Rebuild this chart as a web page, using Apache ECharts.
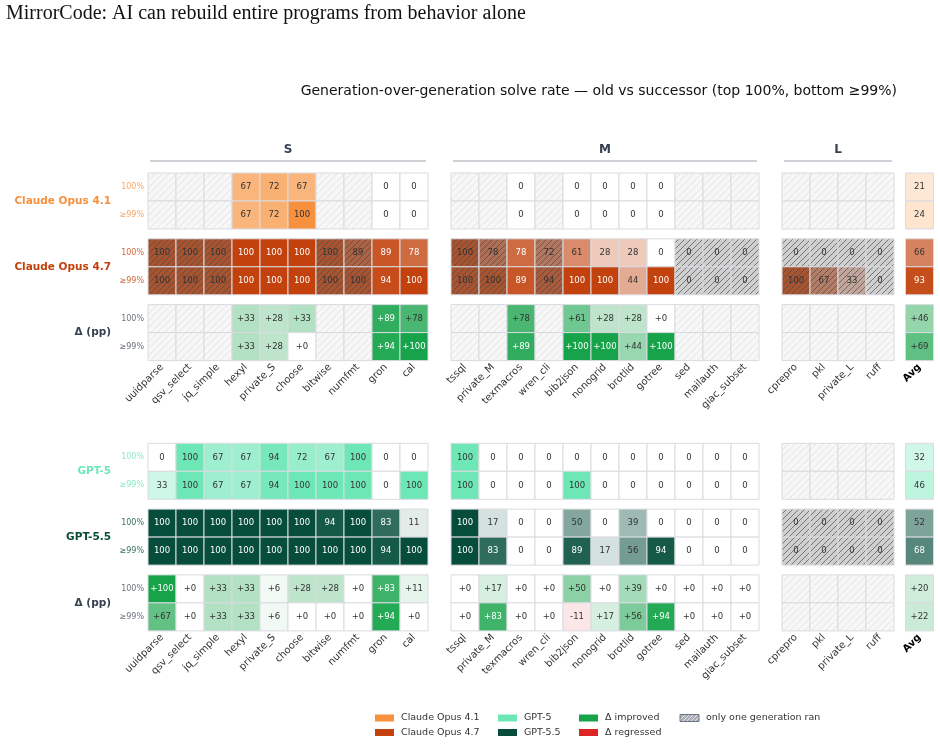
<!DOCTYPE html>
<html>
<head>
<meta charset="utf-8">
<script src="https://cdn.jsdelivr.net/npm/echarts@6/dist/echarts.min.js"></script>
<style>
html,body{margin:0;padding:0;background:#fff;}
#chart{width:940px;height:744px;}
</style>
</head>
<body>
<div id="chart"></div>
<script>
// columns by size group
const sCols = ['uuidparse','qsv_select','jq_simple','hexyl','private_S','choose','bitwise','numfmt','gron','cal'];
const mCols = ['tssql','private_M','texmacros','wren_cli','bib2json','nonogrid','brotlid','gotree','sed','mailauth','giac_subset'];
const lCols = ['cprepro','pkl','private_L','ruff'];
const avgCols = ['Avg'];
const rowLabels = ['100%', '≥99%'];

// each row: S(10) | M(11) | L(4) | Avg(1); null = not run
const opus41Top = [null,null,null,67,72,67,null,null,0,0,  null,null,0,null,0,0,0,0,null,null,null,  null,null,null,null, 21];
const opus41Bot = [null,null,null,67,72,100,null,null,0,0, null,null,0,null,0,0,0,0,null,null,null,  null,null,null,null, 24];
const opus47Top = [100,100,100,100,100,100,100,89,89,78,   100,78,78,72,61,28,28,0,0,0,0,           0,0,0,0, 66];
const opus47Bot = [100,100,100,100,100,100,100,100,94,100, 100,100,89,94,100,100,44,100,0,0,0,      100,67,33,0, 93];
const dOpusTop  = [null,null,null,33,28,33,null,null,89,78, null,null,78,null,61,28,28,0,null,null,null, null,null,null,null, 46];
const dOpusBot  = [null,null,null,33,28,0,null,null,94,100, null,null,89,null,100,100,44,100,null,null,null, null,null,null,null, 69];

const gpt5Top   = [0,100,67,67,94,72,67,100,0,0,           100,0,0,0,0,0,0,0,0,0,0,   null,null,null,null, 32];
const gpt5Bot   = [33,100,67,67,94,100,100,100,0,100,      100,0,0,0,100,0,0,0,0,0,0, null,null,null,null, 46];
const gpt55Top  = [100,100,100,100,100,100,94,100,83,11,   100,17,0,0,50,0,39,0,0,0,0,  0,0,0,0, 52];
const gpt55Bot  = [100,100,100,100,100,100,100,100,94,100, 100,83,0,0,89,17,56,94,0,0,0, 0,0,0,0, 68];
const dGptTop   = [100,0,33,33,6,28,28,0,83,11,            0,17,0,0,50,0,39,0,0,0,0,   null,null,null,null, 20];
const dGptBot   = [67,0,33,33,6,0,0,0,94,0,                0,83,0,0,-11,17,56,94,0,0,0, null,null,null,null, 22];

const C_OPUS41 = '#F7913D', C_OPUS47 = '#C2410C', C_GPT5 = '#6EE7B7', C_GPT55 = '#064E3B';
const C_UP = '#16A34A', C_DOWN = '#DC2626', C_DELTA = '#374151';

const groups = [
    {name:'S', cols:sCols, off:0,  x:148},
    {name:'M', cols:mCols, off:10, x:451},
    {name:'L', cols:lCols, off:21, x:782},
    {name:'',  cols:avgCols, off:25, x:905.5}
];
const CW = 28, CH = 28, STEP = 65.8;

const panels = [
    {top:173, blocks:[
        {label:'Claude Opus 4.1', color:C_OPUS41, kind:'model', rows:[opus41Top, opus41Bot]},
        {label:'Claude Opus 4.7', color:C_OPUS47, kind:'model', rows:[opus47Top, opus47Bot], prev:[opus41Top, opus41Bot]},
        {label:'Δ (pp)', color:C_DELTA, kind:'delta', rows:[dOpusTop, dOpusBot]}
    ]},
    {top:443.3, blocks:[
        {label:'GPT-5', color:C_GPT5, kind:'model', rows:[gpt5Top, gpt5Bot]},
        {label:'GPT-5.5', color:C_GPT55, kind:'model', rows:[gpt55Top, gpt55Bot], prev:[gpt5Top, gpt5Bot]},
        {label:'Δ (pp)', color:C_DELTA, kind:'delta', rows:[dGptTop, dGptBot]}
    ]}
];

function hexRgb(h){ h=h.replace('#',''); return [0,2,4].map(i=>parseInt(h.substr(i,2),16)); }
function mixRgb(hex, t, base){
    const a = hexRgb(hex), b = hexRgb(base || '#ffffff');
    return a.map((v,i)=>Math.round(b[i] + (v-b[i])*t));
}
function toHex(rgb){ return '#' + rgb.map(v=>('0'+v.toString(16)).slice(-2)).join(''); }
function mix(hex, t, base){ return toHex(mixRgb(hex, t, base)); }

const patCache = {};
function hatch(bg, line, size){
    const key = bg+line+size;
    if(patCache[key]) return patCache[key];
    const c = document.createElement('canvas');
    c.width = c.height = size;
    const ctx = c.getContext('2d');
    ctx.fillStyle = bg; ctx.fillRect(0,0,size,size);
    ctx.strokeStyle = line; ctx.lineWidth = 1;
    ctx.beginPath();
    ctx.moveTo(0,size); ctx.lineTo(size,0);
    ctx.moveTo(-1,1); ctx.lineTo(1,-1);
    ctx.moveTo(size-1,size+1); ctx.lineTo(size+1,size-1);
    ctx.stroke();
    patCache[key] = {image:c, repeat:'repeat'};
    return patCache[key];
}
const EMPTY = hatch('#f7f7f7', '#e4e4e4', 7);

function cellInfo(block, r, i){
    const v = block.rows[r][i];
    if(v === null) return {fill:EMPTY, text:''};
    let rgb;
    if(block.kind === 'delta'){
        rgb = v >= 0 ? mixRgb(C_UP, v/100) : mixRgb(C_DOWN, -v/100);
    } else {
        rgb = mixRgb(block.color, v/100);
    }
    const text = block.kind === 'delta' ? (v >= 0 ? '+' + v : '' + v) : '' + v;
    const hatched = block.prev && block.prev[r][i] === null;
    if(hatched){
        const bg = mixRgb('#777777', 0.35, toHex(rgb));
        return {fill:hatch(toHex(bg), 'rgba(70,70,70,0.65)', 6), text, textColor:'#333'};
    }
    const br = 0.299*rgb[0] + 0.587*rgb[1] + 0.114*rgb[2];
    return {fill:toHex(rgb), text, textColor: br < 140 ? '#ffffff' : '#333333'};
}

const grids = [], xAxes = [], yAxes = [], series = [];
panels.forEach((p, pi)=>{
    p.blocks.forEach((b, bi)=>{
        groups.forEach((g, gi)=>{
            const idx = grids.length;
            grids.push({left:g.x, top:p.top + bi*STEP, width:g.cols.length*CW, height:2*CH});
            xAxes.push({
                type:'category', gridIndex:idx,
                data:g.cols.map(c => c === 'Avg' ? {value:c, textStyle:{fontWeight:'bold', color:'#000'}} : c),
                axisLine:{show:false}, axisTick:{show:false}, splitLine:{show:false},
                axisLabel:{show:bi === 2, rotate:45, interval:0, fontSize:10, color:'#333', margin:5, fontFamily:'DejaVu Sans'}
            });
            yAxes.push({
                type:'category', gridIndex:idx, inverse:true, data:rowLabels,
                axisLine:{show:false}, axisTick:{show:false}, splitLine:{show:false},
                axisLabel:{show:gi === 0, fontSize:8, margin:4, fontFamily:'DejaVu Sans',
                    color: b.kind === 'delta' ? '#6b7280' : mix(b.color, 0.8)}
            });
            const data = [], cells = [];
            for(let r = 0; r < 2; r++){
                g.cols.forEach((c, ci)=>{
                    data.push([ci, r]);
                    cells.push(cellInfo(b, r, g.off + ci));
                });
            }
            series.push({
                type:'custom', xAxisIndex:idx, yAxisIndex:idx, silent:true,
                data:data,
                renderItem(params, api){
                    const info = cells[params.dataIndex];
                    const pt = api.coord([api.value(0), api.value(1)]);
                    const sz = api.size([1, 1]);
                    const children = [{
                        type:'rect',
                        shape:{x:pt[0]-sz[0]/2, y:pt[1]-sz[1]/2, width:sz[0], height:sz[1]},
                        style:{fill:info.fill, stroke:'#d9dbe1', lineWidth:1}
                    }];
                    if(info.text){
                        children.push({type:'text', style:{
                            text:info.text, x:pt[0], y:pt[1], align:'center', verticalAlign:'middle',
                            fill:info.textColor, fontSize:8.5, fontFamily:'DejaVu Sans'
                        }});
                    }
                    return {type:'group', children};
                }
            });
        });
    });
});

const graphics = [
    {type:'text', x:6, y:14, style:{text:'MirrorCode: AI can rebuild entire programs from behavior alone',
        fontFamily:'Liberation Serif', fontSize:20, fill:'#111', verticalAlign:'middle'}},
    {type:'text', x:897, y:91, style:{text:'Generation-over-generation solve rate — old vs successor (top 100%, bottom ≥99%)',
        fontFamily:'DejaVu Sans', fontSize:14, fill:'#111', align:'right', verticalAlign:'middle'}}
];
// size group headers
groups.forEach(g=>{
    if(!g.name) return;
    const w = g.cols.length*CW;
    graphics.push({type:'text', x:g.x + w/2, y:150, style:{text:g.name, fontFamily:'DejaVu Sans', fontWeight:'bold',
        fontSize:12, fill:'#374151', align:'center', verticalAlign:'middle'}});
    graphics.push({type:'line', shape:{x1:g.x+2, y1:161, x2:g.x+w-2, y2:161}, style:{stroke:'#9ca3af', lineWidth:1}});
});
// model labels
panels.forEach(p=>{
    p.blocks.forEach((b, bi)=>{
        graphics.push({type:'text', x:111, y:p.top + bi*STEP + CH, style:{text:b.label, fontFamily:'DejaVu Sans',
            fontWeight:'bold', fontSize:10.5, fill:b.color, align:'right', verticalAlign:'middle'}});
    });
});
// legend
const legendItems = [
    [375, 718, C_OPUS41, 'Claude Opus 4.1'],
    [375, 732.5, C_OPUS47, 'Claude Opus 4.7'],
    [498, 718, C_GPT5, 'GPT-5'],
    [498, 732.5, C_GPT55, 'GPT-5.5'],
    [579, 718, C_UP, 'Δ improved'],
    [579, 732.5, C_DOWN, 'Δ regressed'],
    [680, 718, null, 'only one generation ran']
];
legendItems.forEach(([x, y, col, name])=>{
    graphics.push({type:'rect', shape:{x:x, y:y-3.5, width:19, height:7},
        style: col ? {fill:col} : {fill:hatch('#a9aeb9', '#e5e7eb', 4), stroke:'#6b7280', lineWidth:1}});
    graphics.push({type:'text', x:x+26, y:y, style:{text:name, fontFamily:'DejaVu Sans', fontSize:9.5,
        fill:'#333', verticalAlign:'middle'}});
});

const chart = echarts.init(document.getElementById('chart'));
chart.setOption({
    animation:false,
    backgroundColor:'#ffffff',
    grid:grids, xAxis:xAxes, yAxis:yAxes, series:series,
    graphic:graphics
});
</script>
</body>
</html>
